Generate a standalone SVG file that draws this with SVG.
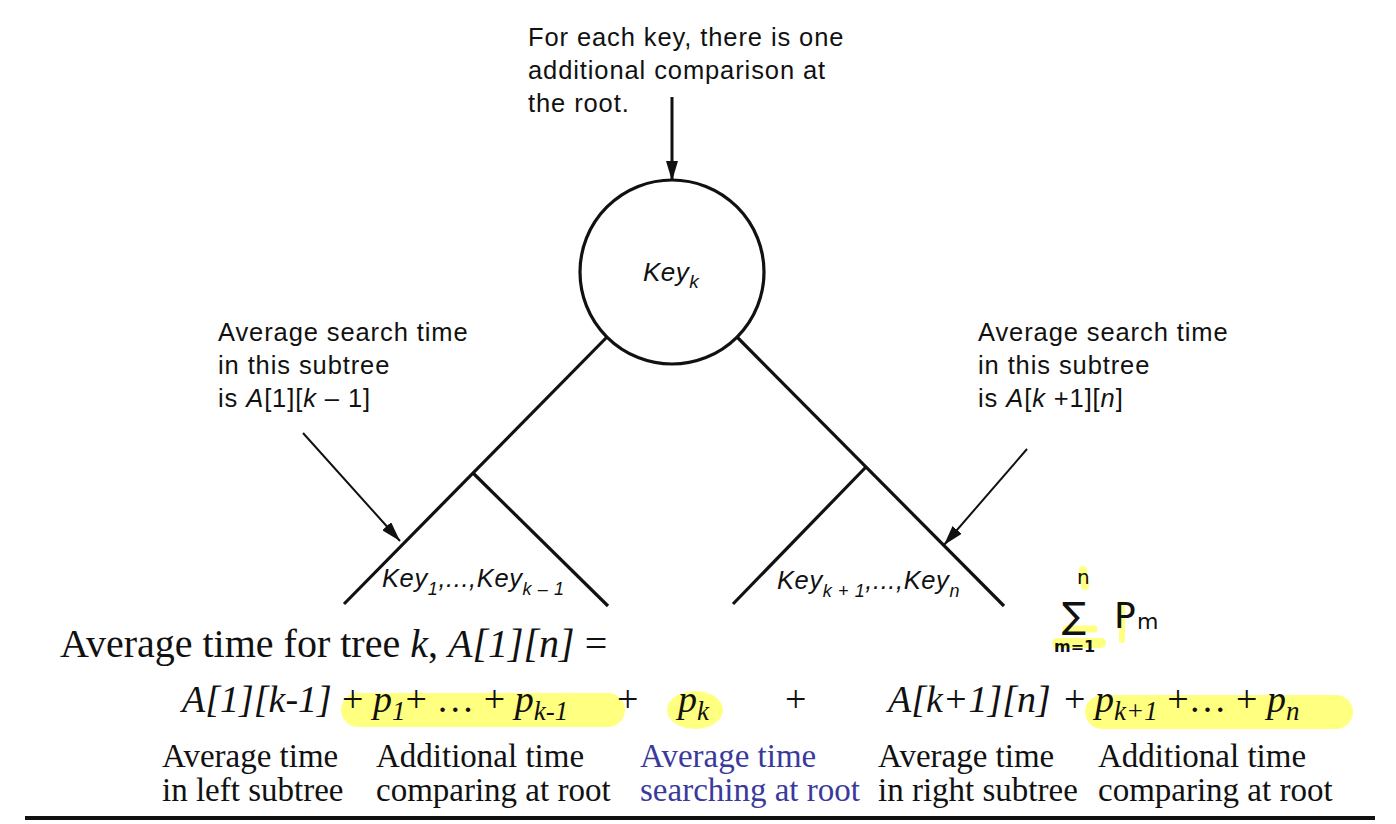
<svg xmlns="http://www.w3.org/2000/svg" width="1396" height="824" viewBox="0 0 1396 824">
<defs>
<style>
.sans{font-family:"Liberation Sans",Arial,sans-serif;font-size:25.5px;letter-spacing:0.9px;fill:#111}
.it{font-style:italic}
.serif{font-family:"Liberation Serif","Times New Roman",serif;fill:#111}
.f{font-size:38px;font-style:italic}
.up{font-style:normal}
.lab{font-size:33px}
.blue{fill:#3a3a9c}
.ln{stroke:#111;stroke-width:3.2;fill:none}
.hl{stroke:#ffff80;stroke-linecap:round;fill:none}
.hand{font-family:"DejaVu Sans",sans-serif;fill:#111}
</style>
<marker id="ah" viewBox="0 0 20 12" refX="20" refY="6" markerWidth="20" markerHeight="12" markerUnits="userSpaceOnUse" orient="auto">
<path d="M0,0 L20,6 L0,12 z" fill="#111"/>
</marker>
</defs>
<rect width="1396" height="824" fill="#fff"/>

<g id="note-top" class="sans">
<text x="528" y="46">For each key, there is one</text>
<text x="528" y="79">additional comparison at</text>
<text x="528" y="112">the root.</text>
</g>

<g id="note-left" class="sans">
<text x="218" y="341">Average search time</text>
<text x="218" y="374">in this subtree</text>
<text x="218" y="407">is <tspan class="it">A</tspan>[1][<tspan class="it">k</tspan> – 1]</text>
</g>

<g id="note-right" class="sans">
<text x="978" y="341">Average search time</text>
<text x="978" y="374">in this subtree</text>
<text x="978" y="407">is <tspan class="it">A</tspan>[<tspan class="it">k</tspan> +1][<tspan class="it">n</tspan>]</text>
</g>

<g id="root">
<circle cx="672" cy="272" r="92" class="ln"/>
<text x="643" y="281" class="sans it" style="font-size:26px;letter-spacing:0.5px">Key<tspan dy="7" style="font-size:19px">k</tspan></text>
</g>

<g id="subtree-left">
<text x="382" y="587" class="sans it" style="letter-spacing:0.6px">Key<tspan dy="8" style="font-size:18px">1</tspan><tspan dy="-8">,...,Key</tspan><tspan dy="8" style="font-size:18px">k – 1</tspan></text>
</g>

<g id="subtree-right">
<text x="777" y="589" class="sans it" style="letter-spacing:0.6px">Key<tspan dy="8" style="font-size:18px">k + 1</tspan><tspan dy="-8">,...,Key</tspan><tspan dy="8" style="font-size:18px">n</tspan></text>
</g>

<g id="connectors">
<line x1="607" y1="337" x2="344" y2="604" class="ln"/>
<line x1="473" y1="473" x2="608" y2="606" class="ln"/>
<line x1="737" y1="337" x2="1004" y2="606" class="ln"/>
<line x1="866" y1="467" x2="733" y2="604" class="ln"/>
<line x1="672" y1="97" x2="672" y2="181" stroke="#111" stroke-width="3" marker-end="url(#ah)"/>
<line x1="303" y1="433" x2="400" y2="541" stroke="#111" stroke-width="2" marker-end="url(#ah)"/>
<line x1="1027" y1="449" x2="944" y2="545" stroke="#111" stroke-width="2" marker-end="url(#ah)"/>
</g>

<g id="sigma-note">
<line x1="1083" y1="570" x2="1085" y2="586" class="hl" stroke-width="8"/>
<line x1="1066" y1="629" x2="1094" y2="629" class="hl" stroke-width="7"/>
<line x1="1057" y1="643" x2="1101" y2="643" class="hl" stroke-width="10"/>
<line x1="1122" y1="604" x2="1122" y2="640" class="hl" stroke-width="6"/>
<text x="1077" y="584" class="hand" style="font-size:20px">n</text>
<text x="1062" y="628" class="hand" style="font-size:36px">∑</text>
<text x="1054" y="652" class="hand" style="font-size:16px;font-weight:bold">m=1</text>
<text x="1114" y="628" class="hand" style="font-size:36px">P</text>
<text x="1137" y="629" class="hand" style="font-size:22px">m</text>
</g>

<g id="formula" class="serif">
<line x1="358" y1="710" x2="608" y2="710" class="hl" stroke-width="34"/>
<ellipse cx="695" cy="710" rx="28" ry="19" fill="#ffff80"/>
<line x1="1102" y1="712" x2="1336" y2="712" class="hl" stroke-width="34"/>
<text x="60" y="657" style="font-size:40px">Average time for tree <tspan class="it">k</tspan>, <tspan class="it">A[1][n]</tspan> =</text>
<text x="182" y="712" class="f">A[1][k-1]</text>
<text x="342" y="712" class="f"><tspan class="up">+</tspan> p<tspan dy="8" style="font-size:27px">1</tspan><tspan dy="-8" class="up">+ … + </tspan>p<tspan dy="8" style="font-size:27px">k-1</tspan></text>
<text x="617" y="712" class="f up">+</text>
<text x="678" y="712" class="f">p<tspan dy="8" style="font-size:27px">k</tspan></text>
<text x="785" y="712" class="f up">+</text>
<text x="888" y="712" class="f">A[k+1][n]</text>
<text x="1064" y="712" class="f"><tspan class="up">+</tspan> p<tspan dy="8" style="font-size:27px">k+1</tspan><tspan dy="-8" class="up"> +… + </tspan>p<tspan dy="8" style="font-size:27px">n</tspan></text>
</g>

<g id="labels" class="serif lab">
<text x="162" y="767">Average time</text>
<text x="162" y="801">in left subtree</text>
<text x="376" y="767">Additional time</text>
<text x="376" y="801">comparing at root</text>
<text x="640" y="767" class="blue">Average time</text>
<text x="640" y="801" class="blue">searching at root</text>
<text x="878" y="767">Average time</text>
<text x="878" y="801">in right subtree</text>
<text x="1098" y="767">Additional time</text>
<text x="1098" y="801">comparing at root</text>
<line x1="25" y1="818" x2="1375" y2="818" stroke="#111" stroke-width="4"/>
</g>
</svg>
